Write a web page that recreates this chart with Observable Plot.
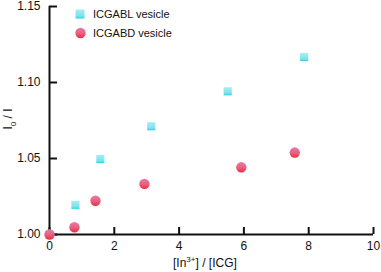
<!DOCTYPE html>
<html><head><meta charset="utf-8">
<script src="https://cdn.jsdelivr.net/npm/d3@7"></script>
<script src="https://cdn.jsdelivr.net/npm/@observablehq/plot@0.6"></script>
<style>
body{margin:0;background:#fff;font-family:"Liberation Sans",Arial,sans-serif;}
#wrap{position:relative;width:381px;height:272px;}
.lbl{position:absolute;font-size:12px;color:#111;white-space:nowrap;line-height:14px;}
.lbl sub,.lbl sup{font-size:8px;}
</style></head>
<body><div id="wrap"></div>
<script>
const ablX = [0, 0.8, 1.57, 3.14, 5.5, 7.86];
const ablY = [1.000, 1.0195, 1.0497, 1.0712, 1.0942, 1.1167];
const abdX = [0, 0.77, 1.42, 2.93, 5.92, 7.57];
const abdY = [1.000, 1.0048, 1.0222, 1.0333, 1.0442, 1.0539];
const xTicks = [0, 2, 4, 6, 8, 10];
const yTicks = [1.00, 1.05, 1.10, 1.15];
const seriesNames = ["ICGABL vesicle", "ICGABD vesicle"];

const abl = ablX.map((x, i) => ({x, y: ablY[i]}));
const abd = abdX.map((x, i) => ({x, y: abdY[i]}));

const W = 381, H = 272, mL = 49, mR = 8, mT = 6, mB = 38;
const xDom = [0, 10], yDom = [1.0, 1.15];

const chart = Plot.plot({
  width: W, height: H,
  marginLeft: mL, marginRight: mR, marginTop: mT, marginBottom: mB,
  style: {fontFamily: '"Liberation Sans", Arial, sans-serif', fontSize: "12px", color: "#111"},
  x: {domain: xDom},
  y: {domain: yDom},
  marks: [
    Plot.axisX({ticks: xTicks, tickSize: 7, dy: -7, tickPadding: 7, label: null, tickFormat: d => d, stroke: "#111", strokeWidth: 2, strokeOpacity: 1}),
    Plot.axisY({ticks: yTicks, tickSize: 8, dx: 8, tickPadding: 9, label: null, tickFormat: d3.format(".2f"), stroke: "#111", strokeWidth: 2, strokeOpacity: 1}),
    Plot.ruleY([yDom[0]], {x1: xDom[0], x2: xDom[1], stroke: "#111", strokeWidth: 2}),
    Plot.ruleX([xDom[0]], {y1: yDom[0], y2: yDom[1], stroke: "#111", strokeWidth: 2}),
    Plot.dot(abl, {x: "x", y: "y", symbol: "square", r: 4.6, fill: "url(#gsq)", stroke: "none"}),
    Plot.dot(abd, {x: "x", y: "y", symbol: "circle", r: 5.2, fill: "url(#gci)", stroke: "none"})
  ]
});
const ns = "http://www.w3.org/2000/svg";
const defs = document.createElementNS(ns, "defs");
defs.innerHTML = `
<linearGradient id="gsq" x1="0" y1="0" x2="0" y2="1">
  <stop offset="0" stop-color="#a6eef3"/><stop offset="0.7" stop-color="#7fe2ec"/><stop offset="1" stop-color="#2fd3e8"/>
</linearGradient>
<linearGradient id="gci" x1="0" y1="0" x2="0" y2="1">
  <stop offset="0" stop-color="#e57aa6"/><stop offset="0.55" stop-color="#e8607f"/><stop offset="1" stop-color="#f2283a"/>
</linearGradient>`;
chart.insertBefore(defs, chart.firstChild);
const wrap = document.getElementById("wrap");
wrap.appendChild(chart);

function addLbl(html, css) {
  const d = document.createElement("div");
  d.className = "lbl"; d.innerHTML = html; d.style.cssText += css; wrap.appendChild(d);
}
const leg = document.createElement("div");
leg.style.cssText = "position:absolute;left:74px;top:5px;font-size:11px;line-height:18.5px;color:#111;";
leg.innerHTML = `
<div style="display:flex;align-items:center;"><svg width="19" height="14"><rect x="1.5" y="2.5" width="9" height="9" fill="url(#gsq)"/></svg><span>${seriesNames[0]}</span></div>
<div style="display:flex;align-items:center;"><svg width="19" height="14"><circle cx="6.5" cy="7" r="5.2" fill="url(#gci)"/></svg><span>${seriesNames[1]}</span></div>`;
wrap.appendChild(leg);
addLbl("[In<sup>3+</sup>] / [ICG]", "left:173px;top:253px;");
addLbl("I<sub>0</sub> / I", "left:11px;top:119px;transform:translate(-50%,-50%) rotate(-90deg);");
</script></body></html>
